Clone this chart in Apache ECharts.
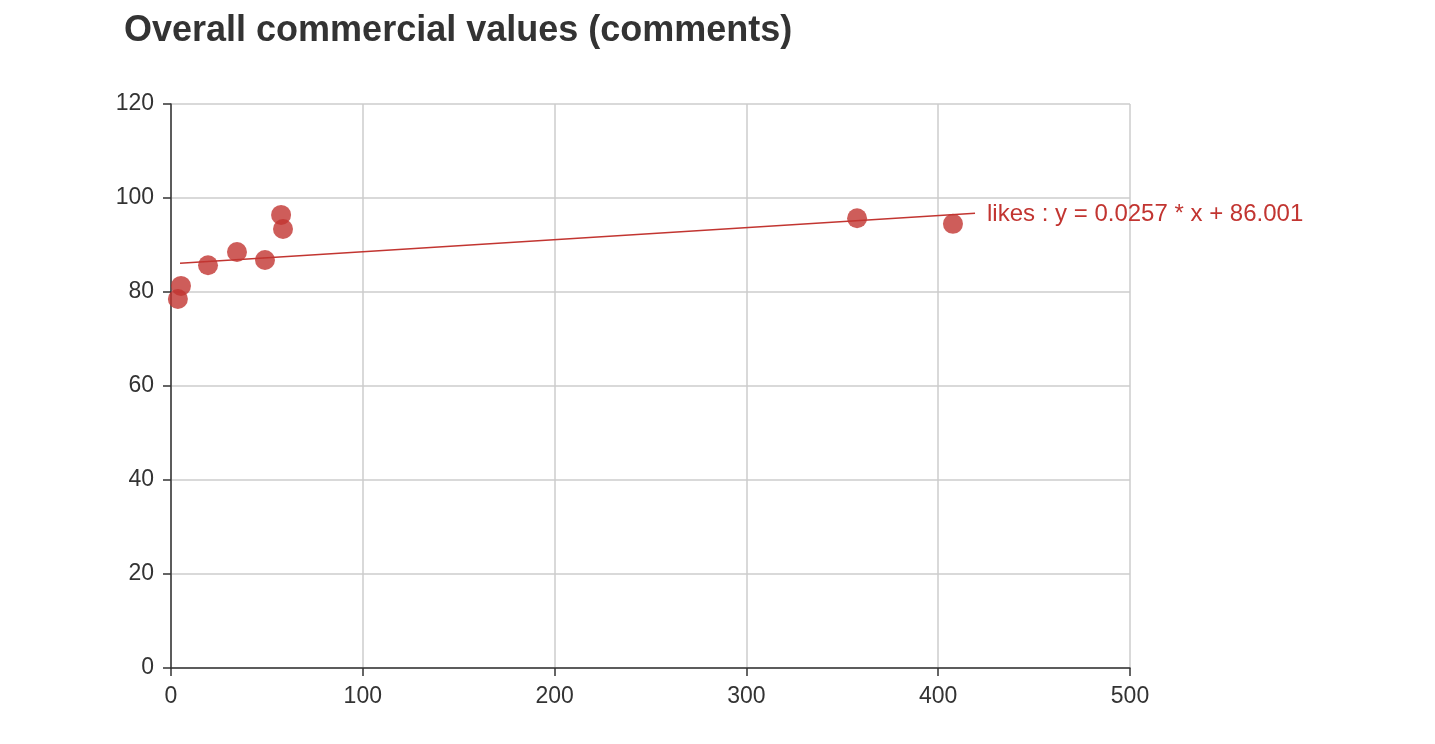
<!DOCTYPE html>
<html>
<head>
<meta charset="utf-8">
<script src="https://cdn.jsdelivr.net/npm/echarts@6/dist/echarts.min.js"></script>
<style>html,body{margin:0;padding:0;background:#fff}#c{width:1435px;height:744px}</style>
</head>
<body>
<div id="c"></div>
<script>
const titleText = 'Overall commercial values (comments)';
const commentsX = [3.6, 5.2, 19.3, 34.4, 49.0, 57.4, 58.4, 357.7, 407.7];
const valuesY = [78.5, 81.3, 85.7, 88.5, 86.8, 96.4, 93.4, 95.7, 94.5];
const slope = [0.0257];
const intercept = [86.001];
const lineRange = [4.7, 419.2];
const seriesName = 'likes';
const xTicks = [0, 100, 200, 300, 400, 500];
const yTicks = [0, 20, 40, 60, 80, 100, 120];

const scatterData = commentsX.map((x, i) => [x, valuesY[i]]);
const lineData = lineRange.map(x => [x, +(slope[0] * x + intercept[0]).toFixed(3)]);
const FONT = '"Liberation Sans", Arial, Helvetica, sans-serif';

const chart = echarts.init(document.getElementById('c'), null, {renderer: 'canvas'});
chart.setOption({
  animation: false,
  textStyle: {fontFamily: FONT},
  title: {
    text: titleText, left: 119, top: 8,
    textStyle: {fontSize: 36, fontWeight: 'bold', color: '#333', fontFamily: FONT}
  },
  grid: {left: 171, right: 305, top: 104, bottom: 76},
  xAxis: {
    type: 'value', min: xTicks[0], max: xTicks[xTicks.length - 1], interval: 100,
    axisLine: {lineStyle: {color: '#333', width: 1.5}},
    axisTick: {show: true, length: 8, lineStyle: {color: '#333', width: 1.5}},
    axisLabel: {fontSize: 23, color: '#333', margin: 17, fontFamily: FONT},
    splitLine: {show: true, lineStyle: {color: '#ccc', width: 1.5}}
  },
  yAxis: {
    type: 'value', min: yTicks[0], max: yTicks[yTicks.length - 1], interval: 20,
    axisLine: {show: true, lineStyle: {color: '#333', width: 1.5}},
    axisTick: {show: true, length: 8, lineStyle: {color: '#333', width: 1.5}},
    axisLabel: {fontSize: 23, color: '#333', margin: 17, fontFamily: FONT, padding: [3, 0, 0, 0]},
    splitLine: {show: true, lineStyle: {color: '#ccc', width: 1.5}}
  },
  series: [
    {
      type: 'scatter', name: 'scatter', data: scatterData, symbolSize: 20,
      itemStyle: {color: '#c23531', opacity: 0.8}, z: 2
    },
    {
      type: 'line', name: seriesName, data: lineData, showSymbol: false, symbol: 'none',
      lineStyle: {color: '#c23531', width: 1.5}, z: 3,
      endLabel: {
        show: true, distance: 12, color: '#c23531', fontSize: 24, fontFamily: FONT, offset: [0, 1],
        formatter: () => seriesName + ' : y = ' + slope[0] + ' * x + ' + intercept[0].toFixed(3)
      }
    }
  ]
});
</script>
</body>
</html>
